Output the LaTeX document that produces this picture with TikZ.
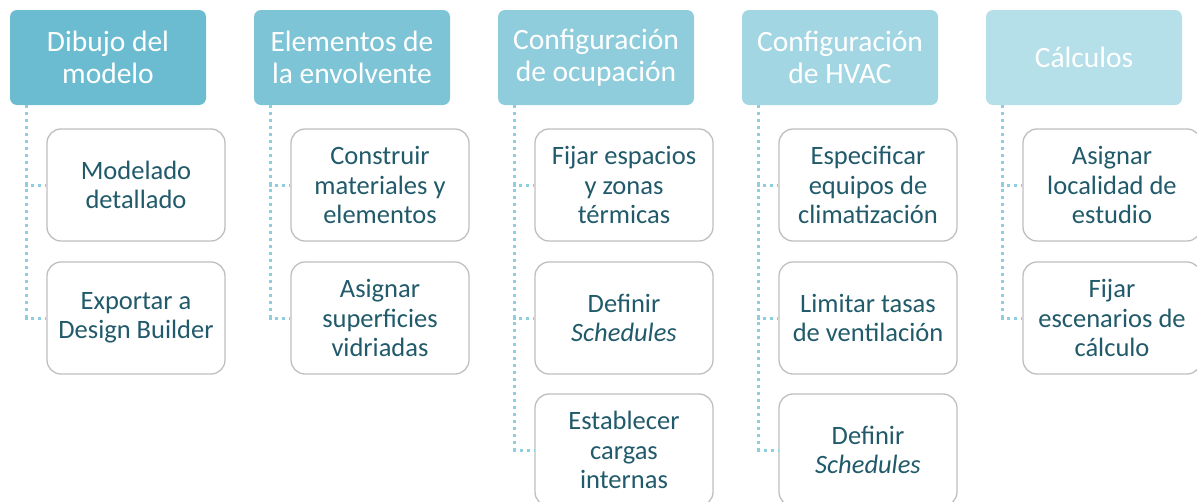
\documentclass[tikz,border=0pt]{standalone}
\usepackage{fontspec}
\setmainfont{Carlito}
\definecolor{headA}{HTML}{6BBCD1}
\definecolor{headB}{HTML}{7CC4D6}
\definecolor{headC}{HTML}{8FCDDD}
\definecolor{headD}{HTML}{A3D6E3}
\definecolor{headE}{HTML}{B5DFE9}
\definecolor{dotline}{HTML}{8DCEDF}
\definecolor{boxline}{HTML}{BFBFBF}
\definecolor{boxtext}{HTML}{215A6A}
\begin{document}
\begin{tikzpicture}[x=1pt,y=-1pt,
	head/.style={rounded corners=7pt,text=white,minimum width=196pt,minimum height=95pt,inner sep=0pt,align=center,font=\fontsize{29.5}{32}\selectfont},
	task/.style={draw=boxline,line width=1.3pt,fill=white,rounded corners=14pt,text=boxtext,minimum width=178pt,minimum height=112pt,inner sep=0pt,align=center,font=\fontsize{26.5}{29.5}\selectfont},
	link/.style={draw=dotline,line width=3pt,dash pattern=on 3pt off 4pt}]
	\useasboundingbox (0,0) rectangle (1197,501);
	% headers
	\node[head,fill=headA] (h1) at (108,57.5) {Dibujo del\\modelo};
	\node[head,fill=headB] (h2) at (352,57.5) {Elementos de\\la envolvente};
	\node[head,fill=headC] (h3) at (596,57.5) {Configuración\\de ocupación};
	\node[head,fill=headD] (h4) at (840,57.5) {Configuración\\de HVAC};
	\node[head,fill=headE] (h5) at (1084,57.5) {Cálculos};
	% tasks
	\node[task] (t11) at (136,185) {Modelado\\detallado};
	\node[task] (t12) at (136,318) {Exportar a\\Design Builder};
	\node[task] (t21) at (380,185) {Construir\\materiales y\\elementos};
	\node[task] (t22) at (380,318) {Asignar\\superficies\\vidriadas};
	\node[task] (t31) at (624,185) {Fijar espacios\\y zonas\\térmicas};
	\node[task] (t32) at (624,318) {Definir\\\textit{Schedules}};
	\node[task] (t33) at (624,450) {Establecer\\cargas\\internas};
	\node[task] (t41) at (868,185) {Especificar\\equipos de\\climatización};
	\node[task] (t42) at (868,318) {Limitar tasas\\de ventilación};
	\node[task] (t43) at (868,450) {Definir\\\textit{Schedules}};
	\node[task] (t51) at (1112,185) {Asignar\\localidad de\\estudio};
	\node[task] (t52) at (1112,318) {Fijar\\escenarios de\\cálculo};
	% dotted links
	\draw[link] ([xshift=17pt]h1.south west) |- (t11.west);
	\draw[link] ([xshift=17pt]h1.south west) |- (t12.west);
	\draw[link] ([xshift=17pt]h2.south west) |- (t21.west);
	\draw[link] ([xshift=17pt]h2.south west) |- (t22.west);
	\draw[link] ([xshift=17pt]h3.south west) |- (t31.west);
	\draw[link] ([xshift=17pt]h3.south west) |- (t32.west);
	\draw[link] ([xshift=17pt]h3.south west) |- (t33.west);
	\draw[link] ([xshift=17pt]h4.south west) |- (t41.west);
	\draw[link] ([xshift=17pt]h4.south west) |- (t42.west);
	\draw[link] ([xshift=17pt]h4.south west) |- (t43.west);
	\draw[link] ([xshift=17pt]h5.south west) |- (t51.west);
	\draw[link] ([xshift=17pt]h5.south west) |- (t52.west);
\end{tikzpicture}
\end{document}
